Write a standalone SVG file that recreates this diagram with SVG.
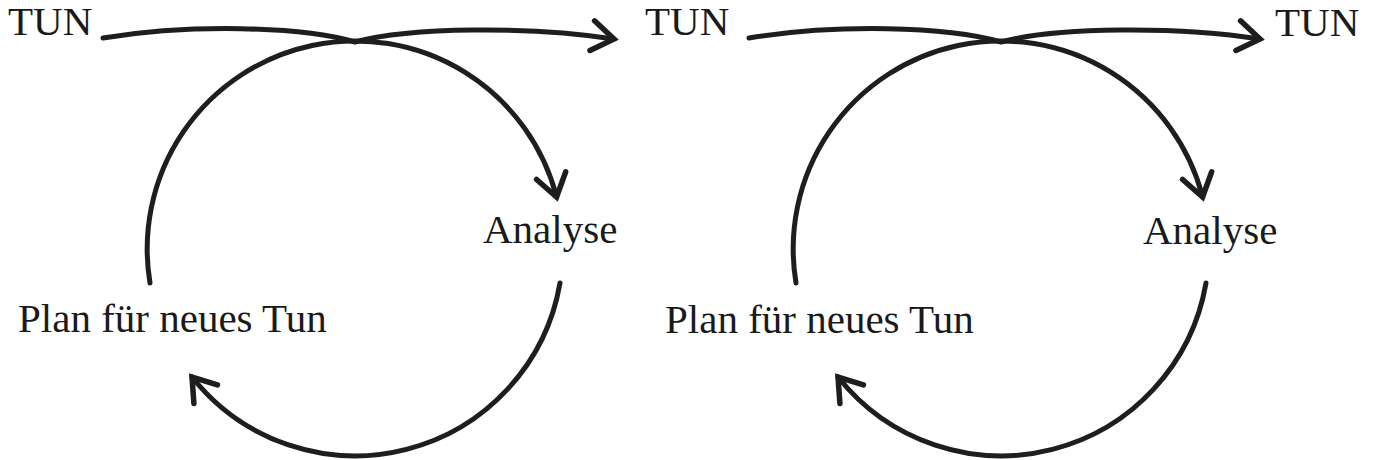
<svg xmlns="http://www.w3.org/2000/svg" width="1373" height="460" viewBox="0 0 1373 460">
  <style>
    .lbl { font-family: "Liberation Serif", "Times New Roman", serif; font-size: 41px; fill: #1a1a1a; }
    .con { fill: none; stroke: #1e1e1e; stroke-width: 5; stroke-linecap: round; }
  </style>
  <defs>
    <marker id="arr" markerUnits="userSpaceOnUse" markerWidth="40" markerHeight="40" refX="0" refY="0" viewBox="-30 -20 40 40" orient="auto" overflow="visible">
      <path d="M-22,-15 L0,0 L-22,15" fill="none" stroke="#1e1e1e" stroke-width="5.5" stroke-linejoin="miter" stroke-linecap="round"/>
    </marker>
  </defs>
  <rect width="1373" height="460" fill="#ffffff"/>

  <g id="connectors">
    <!-- left loop -->
    <path class="con" d="M103,38 C190,24 300,26 355,42 C410,27 530,26 614,39" marker-end="url(#arr)"/>
    <path class="con" d="M150,283 A208,208 0 0 1 556.6,197" marker-end="url(#arr)"/>
    <path class="con" d="M560,283 A208,208 0 0 1 192,377" marker-end="url(#arr)"/>
    <!-- right loop -->
    <g transform="translate(646,0)">
      <path class="con" d="M103,38 C190,24 300,26 355,42 C410,27 530,26 614,39" marker-end="url(#arr)"/>
      <path class="con" d="M150,283 A208,208 0 0 1 556.6,197" marker-end="url(#arr)"/>
      <path class="con" d="M560,283 A208,208 0 0 1 192,377" marker-end="url(#arr)"/>
    </g>
  </g>

  <g id="tun1"><text class="lbl" x="8" y="35">TUN</text></g>
  <g id="analyse1"><text class="lbl" x="483" y="243">Analyse</text></g>
  <g id="plan1"><text class="lbl" x="18" y="332">Plan für neues Tun</text></g>
  <g id="tun2"><text class="lbl" x="645" y="35">TUN</text></g>
  <g id="analyse2"><text class="lbl" x="1143" y="244">Analyse</text></g>
  <g id="plan2"><text class="lbl" x="665" y="333">Plan für neues Tun</text></g>
  <g id="tun3"><text class="lbl" x="1275" y="36">TUN</text></g>
</svg>
